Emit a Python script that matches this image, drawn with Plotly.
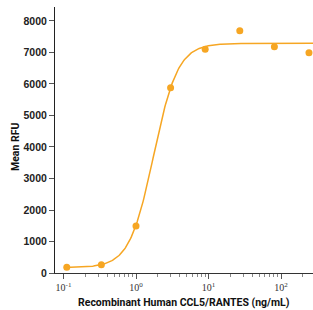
import numpy as np
import plotly.graph_objects as go

# Concentration (ng/mL) and mean RFU
conc = [0.111, 0.333, 1.0, 3.0, 9.0, 27.0, 81.0, 243.0]
rfu = [181, 263, 1492, 5883, 7101, 7692, 7184, 6994]

# four-parameter logistic fit parameters (estimated)
fit_bottom = 170
fit_top = 7290
fit_ec50 = 1.75
fit_hill = 2.6
fit_range = [0.105, 300]

y_ticks = [0, 1000, 2000, 3000, 4000, 5000, 6000, 7000, 8000]
x_ticks = [0.1, 1, 10, 100]
x_ticktext = ["10<sup>-1</sup>", "10<sup>0</sup>", "10<sup>1</sup>", "10<sup>2</sup>"]
x_minor = [m * d for d in (0.1, 1, 10, 100) for m in range(2, 10)]

orange = "#F6A623"

xs = np.logspace(np.log10(fit_range[0]), np.log10(fit_range[1]), 300)
ys = fit_bottom + (fit_top - fit_bottom) / (1 + (fit_ec50 / xs) ** fit_hill)

fig = go.Figure()
fig.add_trace(go.Scatter(x=xs, y=ys, mode="lines",
                         line=dict(color=orange, width=1.5), hoverinfo="skip"))
fig.add_trace(go.Scatter(x=conc, y=rfu, mode="markers",
                         marker=dict(color=orange, size=7), cliponaxis=False))

font_main = "Liberation Sans Narrow, Roboto, Arial, sans-serif"

fig.update_layout(
    width=313, height=310,
    margin=dict(l=55, r=0, t=7, b=37, autoexpand=False),
    plot_bgcolor="white", paper_bgcolor="white",
    showlegend=False,
    font=dict(family=font_main, color="#222"),
    annotations=[
        dict(text="<b>Recombinant Human CCL5/RANTES (ng/mL)</b>",
             xref="paper", yref="paper", x=0.5, y=0, yshift=-29,
             xanchor="center", yanchor="middle", showarrow=False,
             font=dict(size=10.5, family=font_main, color="#111")),
        dict(text="<b>Mean RFU</b>", textangle=-90,
             xref="paper", yref="paper", x=0, xshift=-40, y=0.5, yshift=-7,
             xanchor="center", yanchor="middle", showarrow=False,
             font=dict(size=10.5, family=font_main, color="#111")),
    ],
)
fig.update_xaxes(
    type="log", range=[-1.117, 2.441], automargin=False,
    tickvals=x_ticks, ticktext=x_ticktext,
    showline=True, linecolor="#333", linewidth=1,
    ticks="outside", ticklen=5, tickcolor="#555",
    minor=dict(ticks="outside", ticklen=3, tickcolor="#888", tickvals=x_minor),
    showgrid=False, zeroline=False,
    tickfont=dict(size=10, family="Liberation Serif, serif", color="#333"),
)
fig.update_yaxes(
    range=[0, 8444], tickvals=y_ticks, automargin=False,
    showline=True, linecolor="#222", linewidth=1,
    ticks="outside", ticklen=5, tickcolor="#555",
    showgrid=False, zeroline=False,
    tickfont=dict(size=10.5, family="Liberation Sans, Arial, sans-serif", color="#222", weight="bold"),
)
fig.write_html("out.html", config={"displayModeBar": False},
               post_script="document.body.style.margin='0';document.body.style.overflow='hidden';")
